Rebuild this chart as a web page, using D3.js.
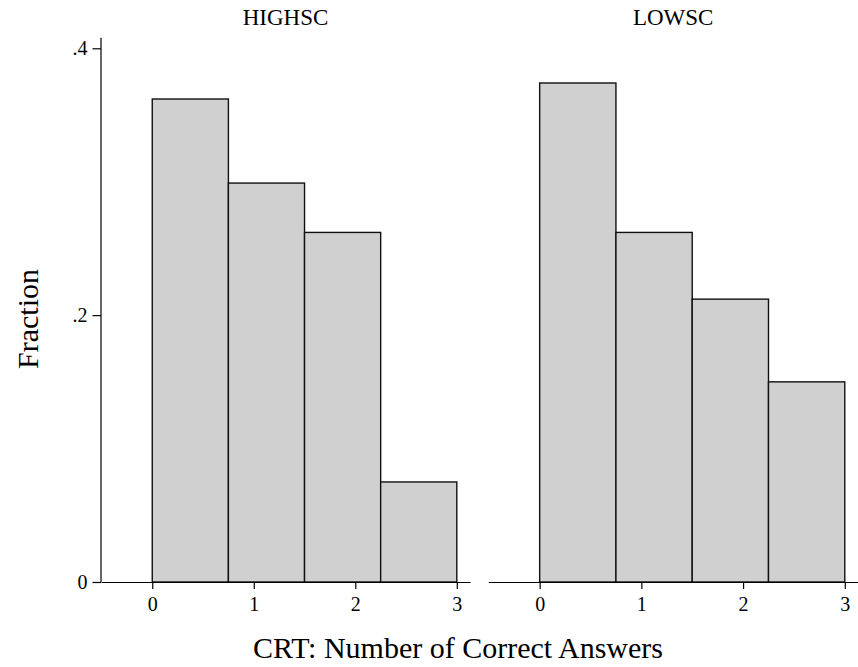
<!DOCTYPE html>
<html><head><meta charset="utf-8">
<script src="https://cdn.jsdelivr.net/npm/d3@7"></script>
<style>body{margin:0;background:#fff}svg{display:block}text{font-family:"Liberation Serif","Times New Roman",serif;fill:#000}</style>
</head><body><svg id="c" width="858" height="667"></svg>
<script>
const panels = ["HIGHSC", "LOWSC"];
const binEdges = [0, 0.75, 1.5, 2.25, 3];
const highsc = [0.362, 0.299, 0.262, 0.075];
const lowsc = [0.374, 0.262, 0.212, 0.150];
const xTicks = [0, 1, 2, 3];
const yTicks = [0, 0.2, 0.4];
const yTickLabels = ["0", ".2", ".4"];
const xTitle = "CRT: Number of Correct Answers";
const yTitle = "Fraction";

const series = [highsc, lowsc];
const svg = d3.select("#c");
const y = d3.scaleLinear().domain([0, 0.4]).range([582, 48.3]);
const panelRanges = [[101, 470], [488.3, 858]];
const xDomain = [-0.505, 3.13];

panels.forEach((name, i) => {
  const x = d3.scaleLinear().domain(xDomain).range(panelRanges[i]);
  const g = svg.append("g");
  const bins = series[i].map((v, k) => ({x0: binEdges[k], x1: binEdges[k+1], v}));
  g.selectAll("rect").data(bins).join("rect")
    .attr("x", d => x(d.x0)).attr("width", d => x(d.x1) - x(d.x0))
    .attr("y", d => y(d.v)).attr("height", d => y(0) - y(d.v))
    .attr("fill", "#d0d0d0").attr("stroke", "#111").attr("stroke-width", 1.4);
  const xa = g.append("g").attr("transform", `translate(0,${y(0)})`)
    .call(d3.axisBottom(x).tickValues(xTicks).tickFormat(d3.format("d")).tickSize(7).tickPadding(8).tickSizeOuter(0));
  xa.select(".domain").attr("stroke-width", 1.2);
  xa.selectAll(".tick line").attr("stroke-width", 1.2);
  xa.selectAll("text").style("font-size", "20px");
  g.append("text").attr("x", (panelRanges[i][0] + panelRanges[i][1]) / 2).attr("y", 25)
    .attr("text-anchor", "middle").style("font-size", "23px").text(name);
  if (i === 0) {
    const ya = g.append("g").attr("transform", `translate(${panelRanges[0][0]},0)`)
      .call(d3.axisLeft(y).tickValues(yTicks).tickFormat((d, k) => yTickLabels[k]).tickSize(8.5).tickPadding(5).tickSizeOuter(0));
    ya.select(".domain").attr("d", `M0,${y(0)}V${y(0.408)}`).attr("stroke-width", 1.2);
    ya.selectAll(".tick line").attr("stroke-width", 1.2);
    ya.selectAll("text").style("font-size", "20px");
  }
});
svg.append("text").attr("x", 458).attr("y", 658).attr("text-anchor", "middle").style("font-size", "30px").text(xTitle);
svg.append("text").attr("transform", "translate(38,319) rotate(-90)").attr("text-anchor", "middle").style("font-size", "30px").text(yTitle);
</script></body></html>
